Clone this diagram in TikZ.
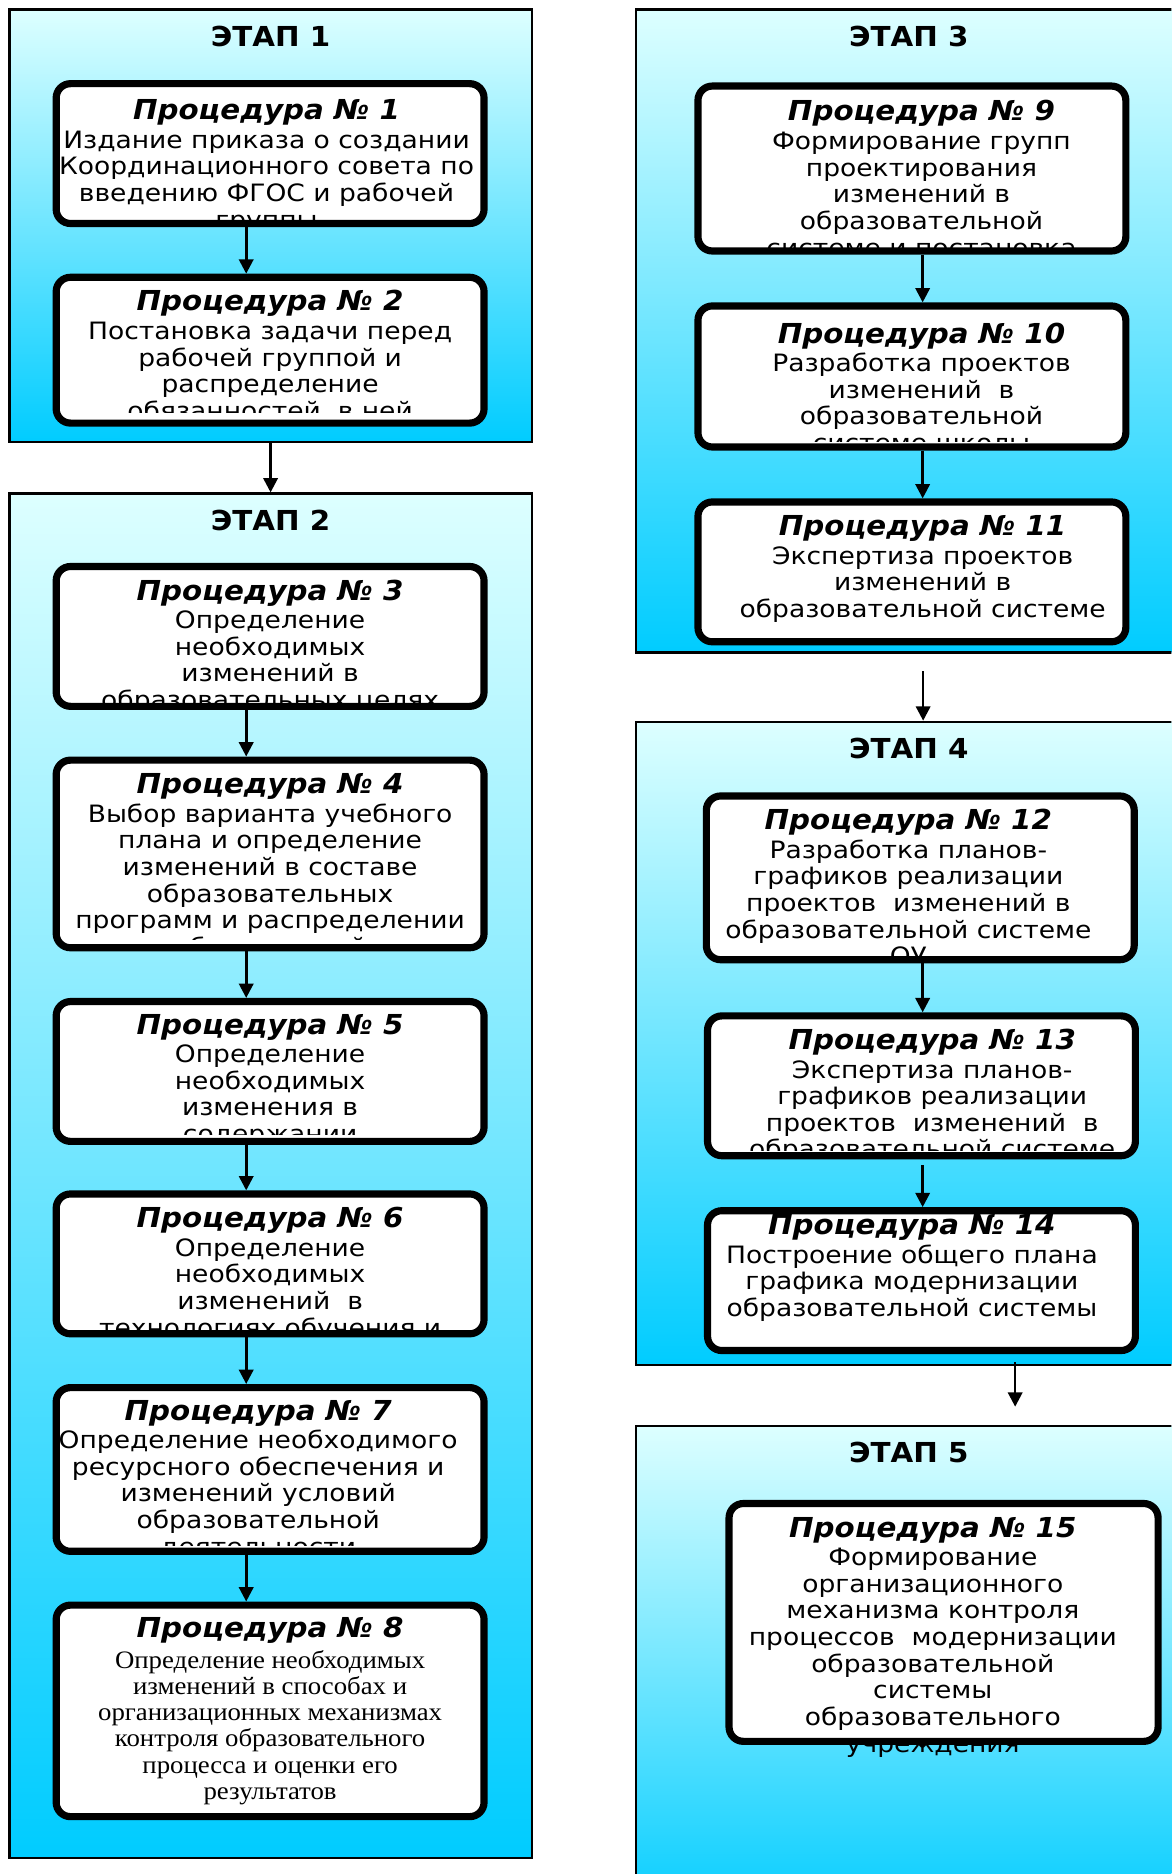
\documentclass[tikz,border=0pt]{standalone}
\usepackage{fontspec}
\setmainfont{DejaVu Sans}[FakeStretch=1.11]
\newfontfamily\headfont{DejaVu Sans}[FakeStretch=1.067]
\newfontfamily\timesbody{Liberation Serif}[FakeStretch=1.067]
\usetikzlibrary{arrows.meta}
\definecolor{stagetop}{HTML}{DDFFFF}
\definecolor{stagebot}{HTML}{00CCFF}
\newcommand{\proctitle}[1]{{\rule{0pt}{18pt}\headfont\fontsize{23}{23}\selectfont\bfseries\itshape Процедура №~#1}}

\begin{document}
\begin{tikzpicture}[x=1pt,y=-1pt,>={Triangle[width=12pt,length=12pt]},
  stage/.style={draw,line width=1.8pt,top color=stagetop,bottom color=stagebot,anchor=north west,inner sep=0pt},
  stagetitle/.style={font=\headfont\fontsize{23}{23}\selectfont\bfseries,anchor=base,inner sep=0pt},
  proc/.style={draw,line width=6pt,rounded corners=12pt,fill=white,anchor=north west,minimum width=358pt,inner sep=0pt},
  proctext/.style={anchor=north,align=center,inner sep=0pt,font=\fontsize{20}{22.3}\selectfont},
  flow/.style={->,line width=2.2pt}]
\useasboundingbox (0,0) rectangle (980,1568);
\clip (0,0) rectangle (980,1568);

\node[stage,minimum width=437pt,minimum height=362pt] (s1) at (7,7) {};
\node[stage,minimum width=437pt,minimum height=1142pt] (s2) at (7,412) {};
\node[stage,minimum width=481pt,minimum height=538pt] (s3) at (531,7) {};
\node[stage,minimum width=481pt,minimum height=538pt] (s4) at (531,603) {};
\node[stage,minimum width=481pt,minimum height=420pt] (s5) at (531,1192) {};

\node[stagetitle] (e1) at ([yshift=-32pt]s1.north) {ЭТАП 1};
\node[stagetitle] (e2) at ([yshift=-32pt]s2.north) {ЭТАП 2};
\node[stagetitle] (e3) at ([xshift=-12pt,yshift=-32pt]s3.north) {ЭТАП 3};
\node[stagetitle] (e4) at ([xshift=-12pt,yshift=-32pt]s4.north) {ЭТАП 4};
\node[stagetitle] (e5) at ([xshift=-12pt,yshift=-32pt]s5.north) {ЭТАП 5};

\node[proc,minimum height=117pt] (p1) at (44,67) {};
\node[proc,minimum height=122pt] (p2) at (44,229) {};
\node[proc,minimum height=117pt] (p3) at (44,471) {};
\node[proc,minimum height=157pt] (p4) at (44,633) {};
\node[proc,minimum height=117pt] (p5) at (44,835) {};
\node[proc,minimum height=117pt] (p6) at (44,996) {};
\node[proc,minimum height=137pt] (p7) at (44,1158) {};
\node[proc,minimum height=177pt] (p8) at (44,1340) {};
\node[proc,minimum height=138pt] (p9) at (581,69) {};
\node[proc,minimum height=118pt] (p10) at (581,253) {};
\node[proc,minimum height=117pt] (p11) at (581,417) {};
\node[proc,minimum height=137pt] (p12) at (588,663) {};
\node[proc,minimum height=117pt] (p13) at (589,847) {};
\node[proc,minimum height=117pt] (p14) at (589,1010) {};
\node[proc,minimum width=359pt,minimum height=199pt] (p15) at (607,1255) {};

\begin{scope}\clip[rounded corners=6pt] ([shift={(6pt,6pt)}]p1.south west) rectangle ([shift={(-6pt,-6pt)}]p1.north east);
\node[proctext] (t1) at ([xshift=-3pt,yshift=-15pt]p1.north) {\proctitle{1}\\[1.5pt]Издание приказа о создании\\Координационного совета по\\введению ФГОС и рабочей\\группы};
\end{scope}
\begin{scope}\clip[rounded corners=6pt] ([shift={(6pt,12pt)}]p2.south west) rectangle ([shift={(-6pt,-6pt)}]p2.north east);
\node[proctext] (t2) at ([yshift=-13pt]p2.north) {\proctitle{2}\\[1.5pt]Постановка задачи перед\\рабочей группой и\\распределение\\обязанностей\ \ в ней};
\end{scope}
\begin{scope}\clip[rounded corners=6pt] ([shift={(6pt,6pt)}]p3.south west) rectangle ([shift={(-6pt,-6pt)}]p3.north east);
\node[proctext] (t3) at ([yshift=-13pt]p3.north) {\proctitle{3}\\[1.5pt]Определение\\необходимых\\изменений в\\образовательных целях};
\end{scope}
\begin{scope}\clip[rounded corners=6pt] ([shift={(6pt,10pt)}]p4.south west) rectangle ([shift={(-6pt,-6pt)}]p4.north east);
\node[proctext] (t4) at ([yshift=-13pt]p4.north) {\proctitle{4}\\[1.5pt]Выбор варианта учебного\\плана и определение\\изменений в составе\\образовательных\\программ и распределении\\обязанностей};
\end{scope}
\begin{scope}\clip[rounded corners=6pt] ([shift={(6pt,9pt)}]p5.south west) rectangle ([shift={(-6pt,-6pt)}]p5.north east);
\node[proctext] (t5) at ([yshift=-12pt]p5.north) {\proctitle{5}\\[1.5pt]Определение\\необходимых\\изменения в\\содержании};
\end{scope}
\begin{scope}\clip[rounded corners=6pt] ([shift={(6pt,6pt)}]p6.south west) rectangle ([shift={(-6pt,-6pt)}]p6.north east);
\node[proctext] (t6) at ([yshift=-13pt]p6.north) {\proctitle{6}\\[1.5pt]Определение\\необходимых\\изменений\ \ в\\технологиях обучения и};
\end{scope}
\begin{scope}\clip[rounded corners=6pt] ([shift={(6pt,8pt)}]p7.south west) rectangle ([shift={(-6pt,-6pt)}]p7.north east);
\node[proctext] (t7) at ([xshift=-10pt,yshift=-12pt]p7.north) {\proctitle{7}\\[1.5pt]Определение необходимого\\ресурсного обеспечения и\\изменений условий\\образовательной\\деятельности};
\end{scope}
\node[proctext,font=\timesbody\fontsize{21}{22}\selectfont] (t8) at ([yshift=-12pt]p8.north) {\proctitle{8}\\[3.5pt]Определение необходимых\\изменений в способах и\\организационных механизмах\\контроля образовательного\\процесса и оценки его\\результатов};

\begin{scope}\clip[rounded corners=6pt] ([shift={(6pt,6pt)}]p9.south west) rectangle ([shift={(-6pt,-6pt)}]p9.north east);
\node[proctext] (t9) at ([xshift=8pt,yshift=-14pt]p9.north) {\proctitle{9}\\[1.5pt]Формирование групп\\проектирования\\изменений в\\образовательной\\системе и постановка};
\end{scope}
\begin{scope}\clip[rounded corners=6pt] ([shift={(6pt,8pt)}]p10.south west) rectangle ([shift={(-6pt,-6pt)}]p10.north east);
\node[proctext] (t10) at ([xshift=8pt,yshift=-16pt]p10.north) {\proctitle{10}\\[1.5pt]Разработка проектов\\изменений\ \ в\\образовательной\\системе школы};
\end{scope}
\node[proctext] (t11) at ([xshift=9pt,yshift=-13pt]p11.north) {\proctitle{11}\\[1.5pt]Экспертиза проектов\\изменений в\\образовательной системе};

\begin{scope}\clip[rounded corners=6pt] ([shift={(6pt,6pt)}]p12.south west) rectangle ([shift={(-6pt,-6pt)}]p12.north east);
\node[proctext] (t12) at ([xshift=-10pt,yshift=-13pt]p12.north) {\proctitle{12}\\[1.5pt]Разработка планов-\\графиков реализации\\проектов\ \ изменений в\\образовательной системе\\ОУ};
\end{scope}
\begin{scope}\clip[rounded corners=6pt] ([shift={(6pt,7pt)}]p13.south west) rectangle ([shift={(-6pt,-6pt)}]p13.north east);
\node[proctext] (t13) at ([xshift=9pt,yshift=-13pt]p13.north) {\proctitle{13}\\[1.5pt]Экспертиза планов-\\графиков реализации\\проектов\ \ изменений\ \ в\\образовательной системе};
\end{scope}
\node[proctext] (t14) at ([xshift=-8pt,yshift=-5pt]p14.north) {\proctitle{14}\\[1.5pt]Построение общего плана\\графика модернизации\\образовательной системы};
\node[proctext] (t15) at ([xshift=-9pt,yshift=-13pt]p15.north) {\proctitle{15}\\[1.5pt]Формирование\\организационного\\механизма контроля\\процессов\ \ модернизации\\образовательной\\системы\\образовательного\\учреждения};

\draw[flow] ([xshift=-20pt]p1.south) -- ([xshift=-20pt]p2.north);
\draw[flow] ([xshift=-20pt]p3.south) -- ([xshift=-20pt]p4.north);
\draw[flow] ([xshift=-20pt]p4.south) -- ([xshift=-20pt]p5.north);
\draw[flow] ([xshift=-20pt]p5.south) -- ([xshift=-20pt]p6.north);
\draw[flow] ([xshift=-20pt]p6.south) -- ([xshift=-20pt]p7.north);
\draw[flow] ([xshift=-20pt]p7.south) -- ([xshift=-20pt]p8.north);
\draw[flow] ([xshift=9pt]p9.south) -- ([xshift=9pt]p10.north);
\draw[flow] ([xshift=9pt]p10.south) -- ([xshift=9pt]p11.north);
\draw[flow] ([xshift=2pt]p12.south) -- ([xshift=1pt]p13.north);
\draw[flow,shorten <=5pt] ([xshift=1pt]p13.south) -- ([xshift=1pt]p14.north);

\draw[flow] (s1.south) -- (s2.north);
\draw[flow,shorten <=15pt] (s3.south) -- (s4.north);
\draw[flow,shorten <=-3pt,shorten >=15pt] ([xshift=77pt]s4.south) -- ([xshift=77pt]s5.north);
\end{tikzpicture}
\end{document}
